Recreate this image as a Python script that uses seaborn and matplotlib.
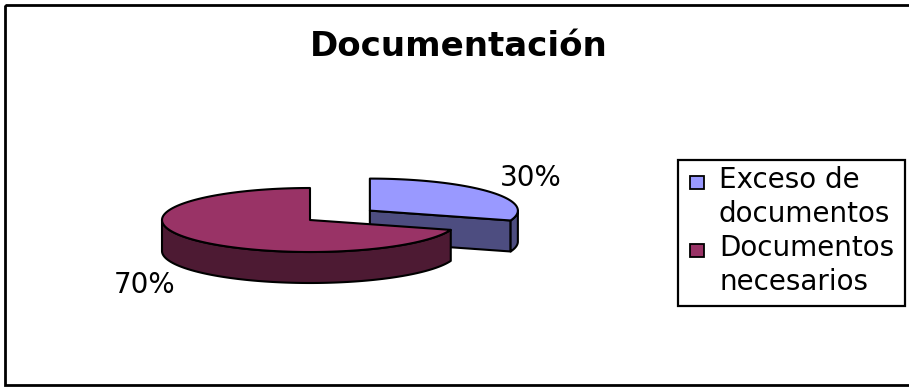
import textwrap
import numpy as np
import matplotlib
matplotlib.use("Agg")
import matplotlib.pyplot as plt
from matplotlib.patches import Polygon, Rectangle
import seaborn as sns

# --- data -------------------------------------------------------------
categories = ["Exceso de documentos", "Documentos necesarios"]
shares = [30, 70]
value_labels = ["30%", "70%"]
top_colors = ["#9999FF", "#993366"]
side_colors = ["#4D4D80", "#4D1A33"]
explode = [0.5, 0.0]
title = "Documentación"

# --- figure in pixel coordinates -------------------------------------
sns.set_theme(style="white")
plt.rcParams["font.family"] = ["DejaVu Sans"]

W, H = 909, 387
fig = plt.figure(figsize=(W / 100, H / 100), dpi=100)
ax = fig.add_axes([0, 0, 1, 1])
ax.set_xlim(0, W)
ax.set_ylim(H, 0)
ax.axis("off")

# chart border
ax.add_patch(Rectangle((5, 5), 915, 380, fill=False, ec="black", lw=2.0,
                       clip_on=True))

# 3-D pie geometry (screen units, y grows downwards)
cx, cy = 310.0, 220.0
rx, ry = 148.0, 32.0
depth = 31.0
LW = 1.5


def rim(theta_deg, ox, oy):
    t = np.radians(theta_deg)
    return ox + rx * np.sin(t), oy - ry * np.cos(t)


def arc(t1, t2, ox, oy, n=120):
    th = np.linspace(t1, t2, n)
    xs, ys = rim(th, ox, oy)
    return np.column_stack([xs, ys])


fracs = np.array(shares, dtype=float) / np.sum(shares)
starts = np.concatenate([[0], np.cumsum(fracs)[:-1]]) * 360.0
ends = np.cumsum(fracs) * 360.0

slices = []
for i in range(len(shares)):
    t1, t2 = starts[i], ends[i]
    mid = np.radians((t1 + t2) / 2)
    ox = cx + explode[i] * rx * np.sin(mid)
    oy = cy - explode[i] * ry * np.cos(mid)
    slices.append((i, t1, t2, ox, oy))

# draw the exploded slice first so the main body sits in front of it
for i, t1, t2, ox, oy in sorted(slices, key=lambda s: -explode[s[0]]):
    # radial cut faces that turn toward the viewer
    for edge, normal in ((t1, t1 - 90), (t2, t2 + 90)):
        if np.cos(np.radians(normal)) < -1e-6:
            ex, ey = rim(edge, ox, oy)
            face = [(ox, oy), (ex, ey), (ex, ey + depth), (ox, oy + depth)]
            ax.add_patch(Polygon(face, closed=True, fc=side_colors[i],
                                 ec="black", lw=LW, joinstyle="round"))
    # outer wall (front half only)
    a, b = max(t1, 90), min(t2, 270)
    if a < b:
        top = arc(a, b, ox, oy)
        bot = top[::-1] + [0, depth]
        ax.add_patch(Polygon(np.vstack([top, bot]), closed=True,
                             fc=side_colors[i], ec="black", lw=LW,
                             joinstyle="round"))
    # top face
    pts = np.vstack([[ox, oy], arc(t1, t2, ox, oy)])
    ax.add_patch(Polygon(pts, closed=True, fc=top_colors[i], ec="black",
                         lw=LW, joinstyle="round"))

# value labels
label_pos = [(531, 178), (145, 285)]
for (lx, ly), txt in zip(label_pos, value_labels):
    ax.text(lx, ly, txt, ha="center", va="center", fontsize=20,
            color="black")

# title
ax.text(459, 56, title, ha="center", va="baseline", fontsize=24.5,
        fontweight="bold", color="black")

# legend
ax.add_patch(Rectangle((678, 160), 227, 146, fill=False, ec="black",
                       lw=1.6))
row = 0
for i, name in enumerate(categories):
    lines = textwrap.fill(name, width=10).split("\n")
    base0 = 188 + 34 * row
    ax.add_patch(Rectangle((690, base0 - 12), 14, 13, fc=top_colors[i],
                           ec="black", lw=1.3))
    for k, line in enumerate(lines):
        ax.text(719, base0 + 34 * k, line, ha="left", va="baseline",
                fontsize=20, color="black")
    row += len(lines)

fig.savefig("out.png", dpi=100)
